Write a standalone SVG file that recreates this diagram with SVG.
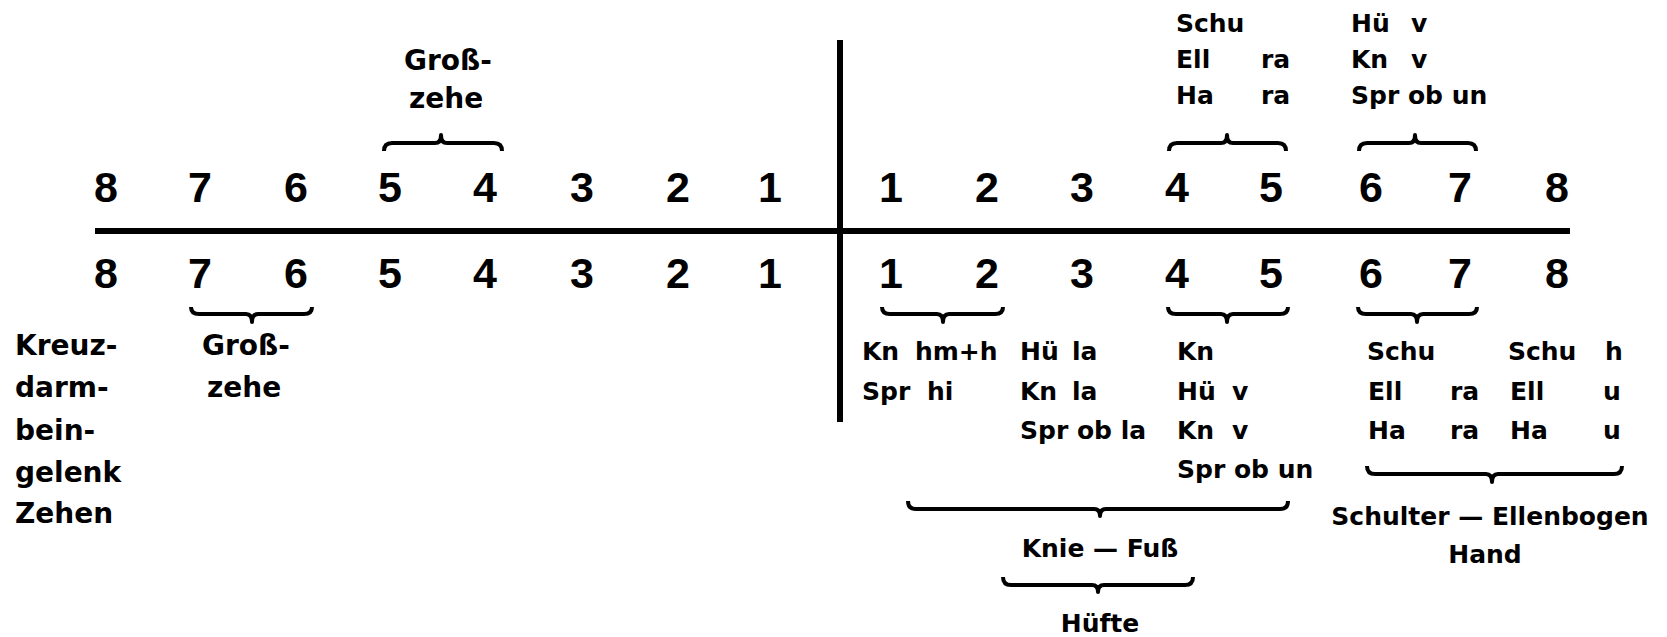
<svg xmlns="http://www.w3.org/2000/svg" width="1667" height="637" viewBox="0 0 1667 637">
<style>
.d{font-family:"Liberation Sans",Arial,sans-serif;font-weight:bold;font-size:43px;text-anchor:middle;fill:#000}
.t{font-family:"DejaVu Sans",Verdana,sans-serif;font-weight:bold;font-size:25px;fill:#000}
.l{font-size:28px}
.m{text-anchor:middle}
.br{fill:none;stroke:#000;stroke-width:4;stroke-linejoin:round;stroke-linecap:butt}
.ln{stroke:#000;fill:none}
</style>
<rect width="1667" height="637" fill="#fff"/>
<g id="axes">
<line class="ln" x1="95" y1="231" x2="1570" y2="231" stroke-width="6"/>
<line class="ln" x1="840" y1="40" x2="840" y2="422" stroke-width="6"/>
</g>
<g id="top-row">
<text class="d" x="106" y="202">8</text><text class="d" x="200" y="202">7</text><text class="d" x="296" y="202">6</text><text class="d" x="390" y="202">5</text><text class="d" x="485" y="202">4</text><text class="d" x="582" y="202">3</text><text class="d" x="678" y="202">2</text><text class="d" x="770" y="202">1</text>
<text class="d" x="891" y="202">1</text><text class="d" x="987" y="202">2</text><text class="d" x="1082" y="202">3</text><text class="d" x="1177" y="202">4</text><text class="d" x="1271" y="202">5</text><text class="d" x="1371" y="202">6</text><text class="d" x="1460" y="202">7</text><text class="d" x="1557" y="202">8</text>
</g>
<g id="bottom-row">
<text class="d" x="106" y="288">8</text><text class="d" x="200" y="288">7</text><text class="d" x="296" y="288">6</text><text class="d" x="390" y="288">5</text><text class="d" x="485" y="288">4</text><text class="d" x="582" y="288">3</text><text class="d" x="678" y="288">2</text><text class="d" x="770" y="288">1</text>
<text class="d" x="891" y="288">1</text><text class="d" x="987" y="288">2</text><text class="d" x="1082" y="288">3</text><text class="d" x="1177" y="288">4</text><text class="d" x="1271" y="288">5</text><text class="d" x="1371" y="288">6</text><text class="d" x="1460" y="288">7</text><text class="d" x="1557" y="288">8</text>
</g>
<g id="braces">
<path class="br" d="M384,151 Q384,143 392,143 L435,143 Q441,143 441,135 Q441,143 447,143 L494,143 Q502,143 502,151"/>
<path class="br" d="M1169,151 Q1169,143 1177,143 L1221,143 Q1227,143 1227,135 Q1227,143 1233,143 L1278,143 Q1286,143 1286,151"/>
<path class="br" d="M1359,151 Q1359,143 1367,143 L1409,143 Q1415,143 1415,135 Q1415,143 1421,143 L1468,143 Q1476,143 1476,151"/>
<path class="br" d="M191,307 Q191,314 199,314 L246,314 Q252,314 252,322 Q252,314 258,314 L304,314 Q312,314 312,307"/>
<path class="br" d="M882,307 Q882,314 890,314 L937,314 Q943,314 943,322 Q943,314 949,314 L995,314 Q1003,314 1003,307"/>
<path class="br" d="M1168,307 Q1168,314 1176,314 L1221,314 Q1227,314 1227,322 Q1227,314 1233,314 L1280,314 Q1288,314 1288,307"/>
<path class="br" d="M1358,307 Q1358,314 1366,314 L1411,314 Q1417,314 1417,322 Q1417,314 1423,314 L1469,314 Q1477,314 1477,307"/>
<path class="br" d="M908,501 Q908,509 916,509 L1094,509 Q1100,509 1100,516 Q1100,509 1106,509 L1280,509 Q1288,509 1288,501"/>
<path class="br" d="M1367,466 Q1367,474 1375,474 L1486,474 Q1492,474 1492,482 Q1492,474 1498,474 L1614,474 Q1622,474 1622,466"/>
<path class="br" d="M1003,577 Q1003,585 1011,585 L1092,585 Q1098,585 1098,592 Q1098,585 1104,585 L1185,585 Q1193,585 1193,577"/>
</g>
<g id="top-grosszehe">
<text class="t l" x="404" y="70">Groß-</text>
<text class="t l" x="409" y="108">zehe</text>
</g>
<g id="top-45">
<text class="t" x="1176" y="32">Schu</text>
<text class="t" x="1176" y="68">Ell</text><text class="t" x="1261" y="68">ra</text>
<text class="t" x="1176" y="104">Ha</text><text class="t" x="1261" y="104">ra</text>
</g>
<g id="top-67">
<text class="t" x="1351" y="32">Hü</text><text class="t" x="1411" y="32">v</text>
<text class="t" x="1351" y="68">Kn</text><text class="t" x="1411" y="68">v</text>
<text class="t" x="1351" y="104">Spr ob un</text>
</g>
<g id="left-labels">
<text class="t l" x="15" y="355">Kreuz-</text>
<text class="t l" x="15" y="397">darm-</text>
<text class="t l" x="15" y="440">bein-</text>
<text class="t l" x="15" y="482">gelenk</text>
<text class="t l" x="15" y="523">Zehen</text>
</g>
<g id="bottom-grosszehe">
<text class="t l" x="202" y="355">Groß-</text>
<text class="t l" x="207" y="397">zehe</text>
</g>
<g id="bottom-12">
<text class="t" x="862" y="360">Kn</text><text class="t" x="915" y="360">hm+h</text>
<text class="t" x="862" y="400">Spr</text><text class="t" x="927" y="400">hi</text>
</g>
<g id="bottom-3">
<text class="t" x="1020" y="360">Hü</text><text class="t" x="1072" y="360">la</text>
<text class="t" x="1020" y="400">Kn</text><text class="t" x="1072" y="400">la</text>
<text class="t" x="1020" y="439">Spr ob la</text>
</g>
<g id="bottom-45">
<text class="t" x="1177" y="360">Kn</text>
<text class="t" x="1177" y="400">Hü</text><text class="t" x="1232" y="400">v</text>
<text class="t" x="1177" y="439">Kn</text><text class="t" x="1232" y="439">v</text>
<text class="t" x="1177" y="478">Spr ob un</text>
</g>
<g id="bottom-67">
<text class="t" x="1367" y="360">Schu</text>
<text class="t" x="1368" y="400">Ell</text><text class="t" x="1450" y="400">ra</text>
<text class="t" x="1368" y="439">Ha</text><text class="t" x="1450" y="439">ra</text>
<text class="t" x="1508" y="360">Schu</text><text class="t" x="1605" y="360">h</text>
<text class="t" x="1510" y="400">Ell</text><text class="t" x="1603" y="400">u</text>
<text class="t" x="1510" y="439">Ha</text><text class="t" x="1603" y="439">u</text>
</g>
<g id="knie-fuss">
<text class="t m" x="1100" y="557">Knie — Fuß</text>
</g>
<g id="huefte">
<text class="t m" x="1100" y="632">Hüfte</text>
</g>
<g id="schulter-hand">
<text class="t m" x="1490" y="525">Schulter — Ellenbogen</text>
<text class="t m" x="1485" y="563">Hand</text>
</g>
</svg>
